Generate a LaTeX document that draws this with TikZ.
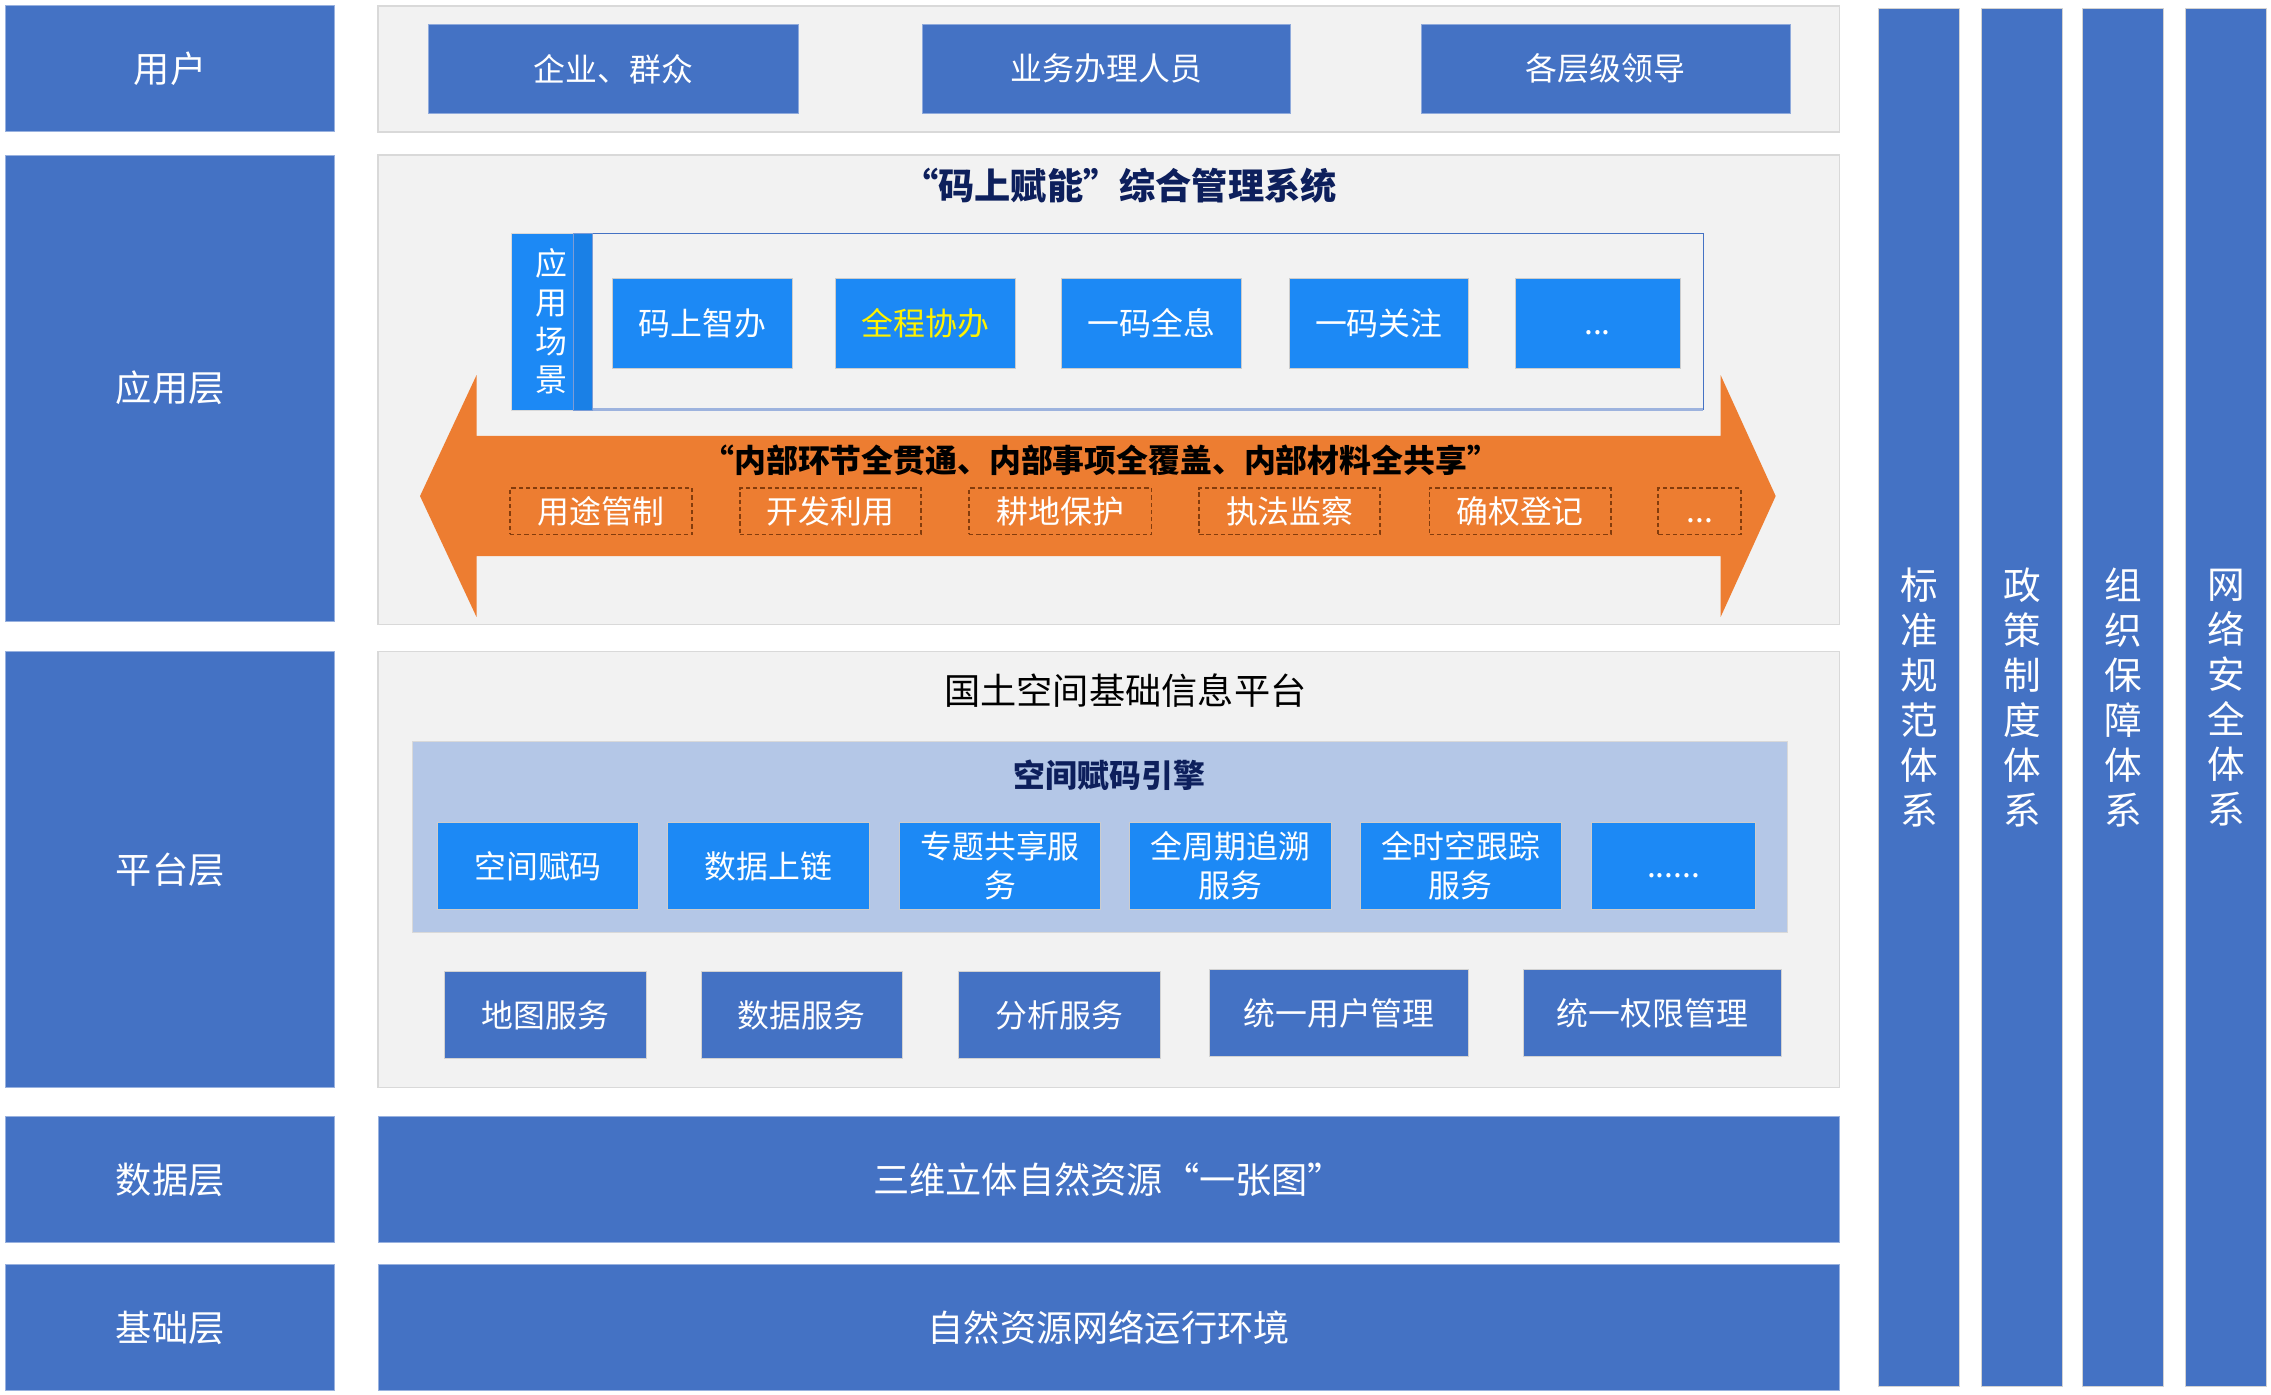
\documentclass[tikz,border=0pt]{standalone}
\usepackage{fontspec}
\setmainfont{Noto Sans CJK SC}
\usepackage{tikz}
\usetikzlibrary{positioning}

\definecolor{layerblue}{HTML}{4472C4}
\definecolor{brightblue}{HTML}{1C89F5}
\definecolor{stripblue}{HTML}{1A80E6}
\definecolor{panelgray}{HTML}{F2F2F2}
\definecolor{panelline}{HTML}{D9D9D9}
\definecolor{enginefill}{HTML}{B4C7E7}
\definecolor{arroworange}{HTML}{ED7D31}
\definecolor{dashbrown}{HTML}{843C0C}
\definecolor{titlenavy}{HTML}{0D1F5C}
\definecolor{framelight}{HTML}{9DB3DE}

\newcommand{\fsz}[1]{\fontsize{#1}{#1}\selectfont}
\newcommand{\tdots}{\vphantom{码}...}
\newcommand{\sdots}{\vphantom{码}......}

\begin{document}
\begin{tikzpicture}[x=1pt, y=-1pt,
  every node/.style={inner sep=0pt, outer sep=0pt},
  layerbox/.style={fill=layerblue, draw=layerblue!55!white, line width=0.6pt,
    text=white, font=\fsz{25}},
  panel/.style={fill=panelgray, draw=panelline, line width=1pt},
  userbox/.style={fill=layerblue, draw=layerblue!60!white, text=white,
    font=\fsz{22}, minimum height=61pt},
  scenebox/.style={fill=brightblue, draw=gray!40, line width=0.5pt,
    font=\fsz{22}, minimum height=62pt},
  dashbox/.style={draw=dashbrown, dashed, line width=1.3pt, dash pattern=on 3pt off 2pt,
    text=white, font=\fsz{22}, minimum height=32pt},
  enginebox/.style={fill=brightblue, draw=gray!40, line width=0.5pt, text=white,
    align=center, font=\fontsize{22}{27}\selectfont, minimum height=60pt},
  servbox/.style={fill=layerblue, draw=gray!35, line width=0.5pt, text=white,
    font=\fsz{22}, minimum height=60pt},
  pillar/.style={fill=layerblue, draw=gray!35, line width=0.6pt, text=white, align=center,
    font=\fontsize{26}{31}\selectfont, minimum width=56pt, minimum height=951pt}
]
\useasboundingbox (0,0) rectangle (1568,963);
\fill[white] (0,0) rectangle (1568,963);

%% ===================== Left column: layer names =====================
\node[layerbox, minimum width=227pt, minimum height=87pt]  (lyuser) at (117.5,47.5)  {用户};
\node[layerbox, minimum width=227pt, minimum height=322pt] (lyapp)  at (117.5,268)   {应用层};
\node[layerbox, minimum width=227pt, minimum height=301pt] (lyplat) at (117.5,600.5) {平台层};
\node[layerbox, minimum width=227pt, minimum height=87pt]  (lydata) at (117.5,814.5) {数据层};
\node[layerbox, minimum width=227pt, minimum height=87pt]  (lybase) at (117.5,916.5) {基础层};

%% ===================== User row =====================
\node[panel, minimum width=1009pt, minimum height=87pt] (userpanel) at (765.5,47.5) {};
\foreach \cx/\w/\txt/\nm in {423.5/255/企业、群众/a, 764/254/业务办理人员/b, 1108.5/255/各层级领导/c}{
  \node[userbox, minimum width=\w pt] (user\nm) at (\cx,47.5) {\txt};
}

%% ===================== Application layer =====================
\node[panel, minimum width=1009pt, minimum height=324pt] (apppanel) at (765.5,269) {};
\node[text=titlenavy, font=\fsz{25}\bfseries] (apptitle) at (773,128) {“码上赋能”综合管理系统};

% scene frame with side bar
\node[fill=panelgray, draw=layerblue, line width=0.8pt, minimum width=767pt,
  minimum height=122pt] (sceneframe) at (792.5,222) {};
\draw[framelight, line width=2pt] (sceneframe.south west) -- (sceneframe.south east);
\node[fill=brightblue, draw=gray!30, line width=0.5pt, minimum width=43pt,
  minimum height=122pt] (scenebar) at (374.5,222) {};
\node[fill=stripblue, draw=layerblue!70, line width=0.5pt, minimum width=13pt,
  minimum height=122pt] (scenestrip) at (402.5,222) {};
\node[text=white, align=center, font=\fontsize{22}{26.7}\selectfont] (scenelabel)
  at (381,222) {应\\用\\场\\景};

\foreach \cx/\w/\txt/\nm/\col in {485/124/码上智办/a/white, 639/124/全程协办/b/yellow,
    795/124/一码全息/c/white, 952/124/一码关注/d/white, 1103/114/\tdots/e/white}{
  \node[scenebox, text=\col, minimum width=\w pt] (scene\nm) at (\cx,223) {\txt};
}

% orange double arrow
\fill[arroworange] (290,342.5) -- (329,259) -- (329,301) -- (1188,301) -- (1188,259)
  -- (1226,342.5) -- (1188,426) -- (1188,384) -- (329,384) -- (329,426) -- cycle;
\node[font=\fsz{22}\bfseries] (arrowtext) at (760,318)
  {“内部环节全贯通、内部事项全覆盖、内部材料全共享”};
\foreach \cx/\w/\txt/\nm in {415/126/用途管制/a, 573.5/125/开发利用/b, 732/126/耕地保护/c,
    890.5/125/执法监察/d, 1049.5/125/确权登记/e, 1173.5/57/\tdots/f}{
  \node[dashbox, minimum width=\w pt] (task\nm) at (\cx,353) {\txt};
}

%% ===================== Platform layer =====================
\node[panel, minimum width=1009pt, minimum height=301pt] (platpanel) at (765.5,600.5) {};
\node[font=\fsz{25}] (plattitle) at (777,477) {国土空间基础信息平台};

\node[fill=enginefill, draw=panelline, line width=0.8pt, minimum width=949pt,
  minimum height=132pt] (engine) at (759.5,578) {};
\node[text=titlenavy, font=\fsz{22}\bfseries] (enginetitle) at (766,535) {空间赋码引擎};
\foreach \cx/\w/\txt/\nm in {371.5/139/空间赋码/a, 530.5/139/数据上链/b,
    690.5/139/专题共享服\\务/c, 849.5/139/全周期追溯\\服务/d,
    1008.5/139/全时空跟踪\\服务/e, 1155.5/113/\sdots/f}{
  \node[enginebox, minimum width=\w pt] (eng\nm) at (\cx,598) {\txt};
}

\foreach \cx/\cy/\w/\txt/\nm in {376.5/701/139/地图服务/a, 553.5/701/139/数据服务/b,
    731.5/701/139/分析服务/c, 924.5/699.5/179/统一用户管理/d, 1141/699.5/178/统一权限管理/e}{
  \node[servbox, minimum width=\w pt] (serv\nm) at (\cx,\cy) {\txt};
}

%% ===================== Data and base layers =====================
\node[layerbox, minimum width=1009pt, minimum height=87pt] (databar) at (765.5,814.5)
  {三维立体自然资源“一张图”};
\node[layerbox, minimum width=1009pt, minimum height=87pt] (basebar) at (765.5,916.5)
  {自然资源网络运行环境};

%% ===================== Right pillars =====================
\node[pillar] (pstd) at (1325,481.5) {标\\准\\规\\范\\体\\系};
\node[pillar] (ppol) at (1396,481.5) {政\\策\\制\\度\\体\\系};
\node[pillar] (porg) at (1466,481.5) {组\\织\\保\\障\\体\\系};
\node[pillar] (pnet) at (1537,481.5) {网\\络\\安\\全\\体\\系};

\end{tikzpicture}
\end{document}
